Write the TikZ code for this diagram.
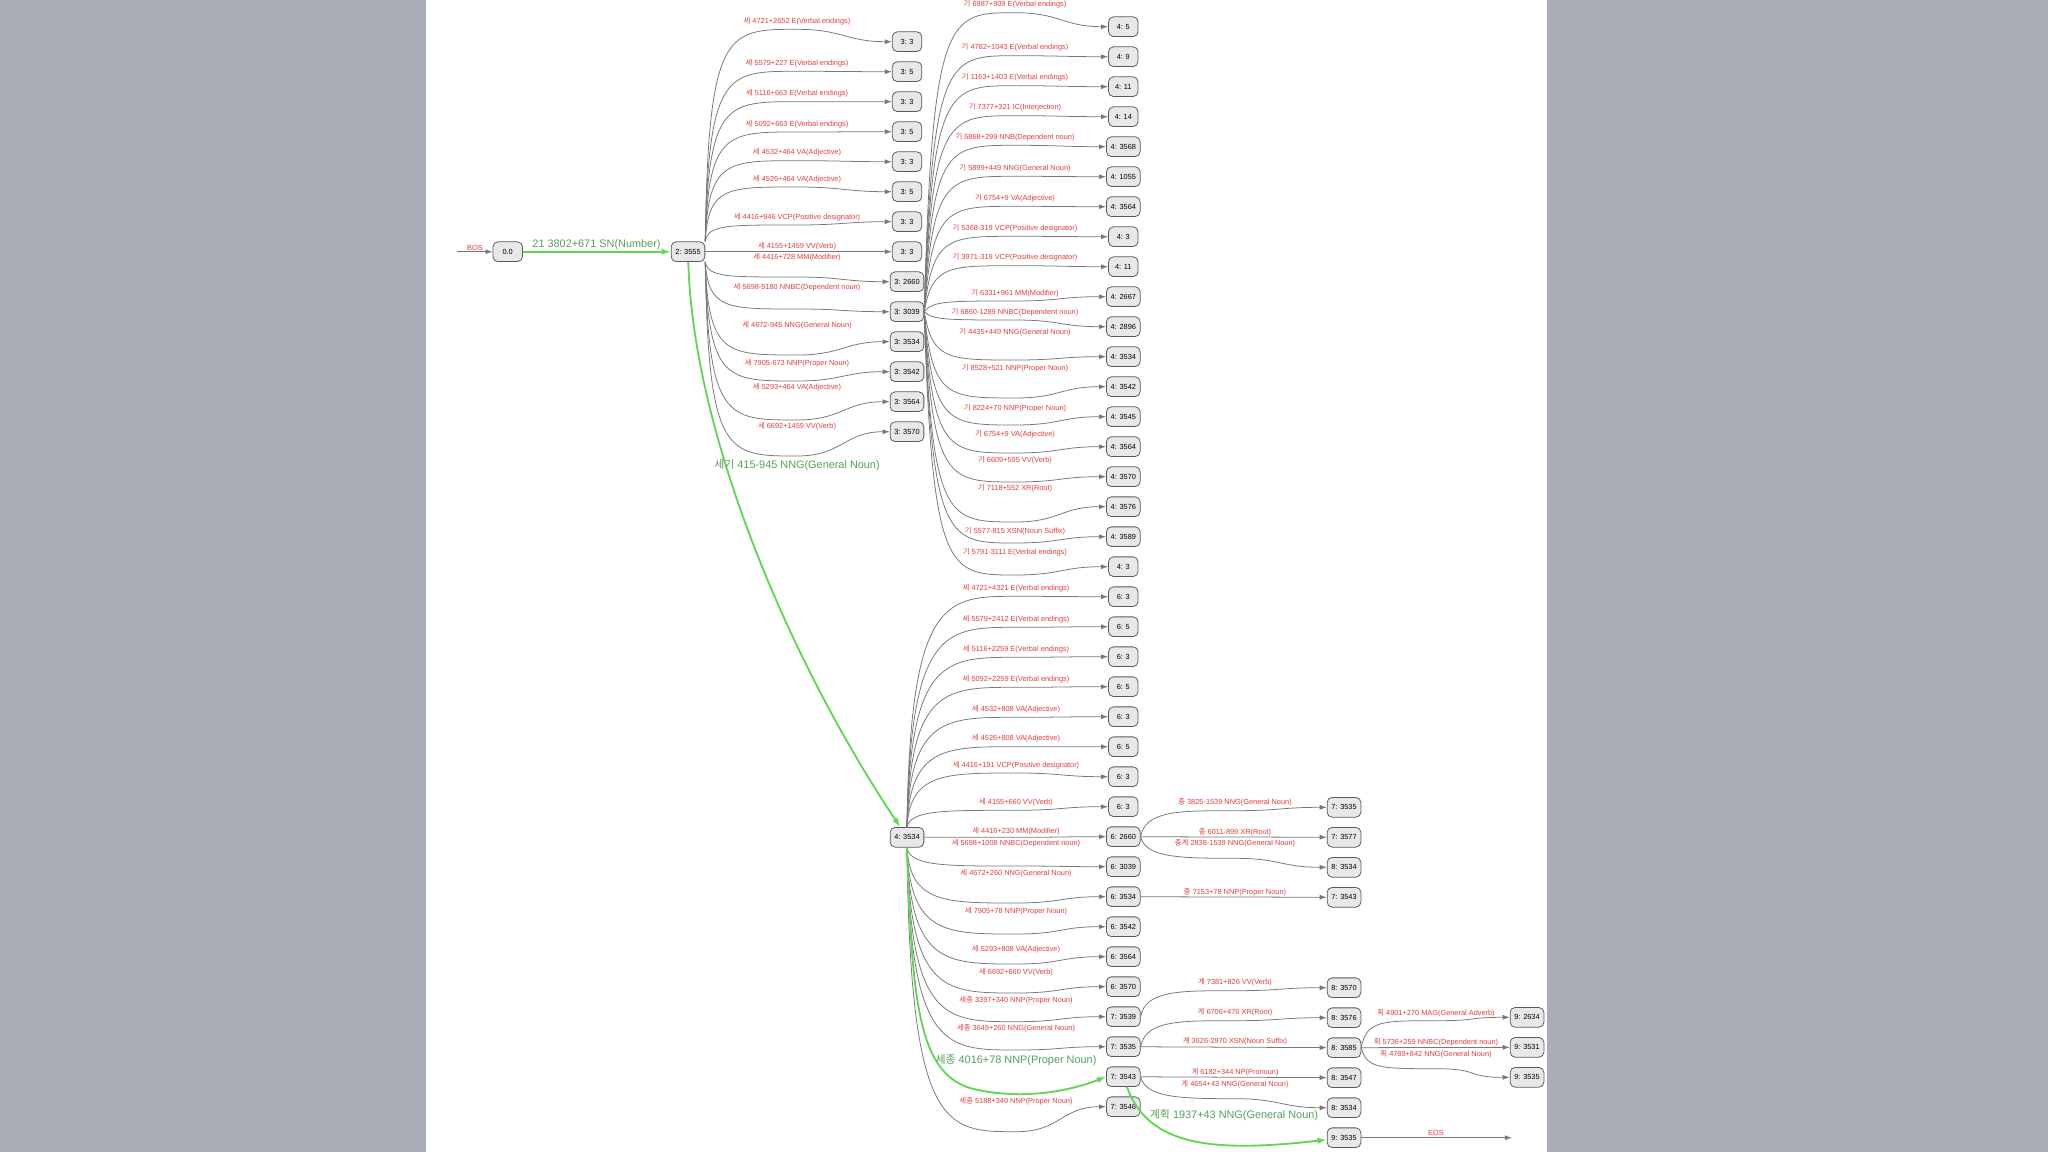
\documentclass[tikz,border=0pt]{standalone}
\usepackage{fontspec}
\setmainfont{Liberation Sans}
\newfontfamily\krfont{Noto Sans CJK KR}
\usetikzlibrary{arrows.meta}
\newcommand\hg[1]{{\krfont #1}}
\definecolor{bggray}{RGB}{170,173,183}
\definecolor{nodefill}{RGB}{232,232,235}
\definecolor{nodeline}{RGB}{90,90,90}
\definecolor{edgegray}{RGB}{120,120,120}
\definecolor{labred}{RGB}{228,60,60}
\definecolor{pathgreen}{RGB}{95,215,80}
\definecolor{labgreen}{RGB}{85,160,90}

\tikzset{
  st/.style={draw=nodeline, fill=nodefill, rounded corners=7pt, line width=1.1pt,
    minimum width=42pt, minimum height=28pt, inner xsep=6pt, font=\fontsize{10.5}{12}\selectfont},
  lnk/.style={draw=edgegray, line width=1.1pt, -{Latex[length=10pt,width=7pt]}},
  bestlnk/.style={draw=pathgreen, line width=2.6pt, -{Latex[length=13pt,width=9pt]}},
  lab/.style={text=labred, inner sep=0pt, font=\fontsize{10.5}{12}\selectfont},
  glab/.style={text=labgreen, inner sep=0pt, font=\fontsize{15.5}{18}\selectfont},
}

\begin{document}
\begin{tikzpicture}[x=0.05cm, y=-0.05cm]
    \useasboundingbox (0,0) rectangle (2048,1152);
    \fill[bggray] (0,0) rectangle (2048,1152);
    \fill[white] (426,0) rectangle (1547,1152);

    \coordinate (bos) at (457,251.7);
    \coordinate (eos) at (1512,1137.7);
    \node[st] (n0) at (507.7,251.7) {0.0};
    \node[st] (n2) at (688,251.7) {2: 3555};
    \foreach \nm [count=\k from 0] in {3,5,3,5,3,5,3,3,2660,3039,3534,3542,3564,3570}
        \node[st] (c3-\k) at (907,41.7+30*\k) {3: \nm};
    \node[st] (n4) at (907,837.3) {4: 3534};
    \foreach \nm [count=\k from 0] in {5,9,11,14,3568,1055,3564,3,11,2667,2896,3534,3542,3545,3564,3570,3576,3589,3}
        \node[st] (c4-\k) at (1123.3,26.7+30*\k) {4: \nm};
    \foreach \nm [count=\k from 0] in {6: 3,6: 5,6: 3,6: 5,6: 3,6: 5,6: 3,6: 3,6: 2660,6: 3039,6: 3534,6: 3542,6: 3564,6: 3570,7: 3539,7: 3535,7: 3543,7: 3546}
        \node[st] (c6-\k) at (1123.3,596.7+30*\k) {\nm};
    \node[st] (r7a) at (1344,807.3) {7: 3535};
    \node[st] (r7b) at (1344,837.3) {7: 3577};
    \node[st] (r8a) at (1344,867.3) {8: 3534};
    \node[st] (r7c) at (1344,897.3) {7: 3543};
    \node[st] (r8b) at (1344,987.7) {8: 3570};
    \node[st] (r8c) at (1344,1017.7) {8: 3576};
    \node[st] (r8d) at (1344,1047.7) {8: 3585};
    \node[st] (r8e) at (1344,1077.7) {8: 3547};
    \node[st] (r8f) at (1344,1107.7) {8: 3534};
    \node[st] (r9a) at (1344,1137.7) {9: 3535};
    \node[st] (f9a) at (1527,1017.3) {9: 2634};
    \node[st] (f9b) at (1527,1047.3) {9: 3531};
    \node[st] (f9c) at (1527,1077.3) {9: 3535};

    \foreach \ly/\wy/\txt [count=\k from 0] in {21.3/29.3/{\hg{세} 4721+2652 E(Verbal endings)},
        63.3/71.3/{\hg{세} 5579+227 E(Verbal endings)}, 93.7/101.7/{\hg{세} 5116+663 E(Verbal endings)},
        124/132/{\hg{세} 5092+663 E(Verbal endings)}, 152.7/160.7/{\hg{세} 4532+464 VA(Adjective)},
        179/187/{\hg{세} 4526+464 VA(Adjective)}, 217/225/{\hg{세} 4416+946 VCP(Positive designator)},
        246/251.7/{\hg{세} 4155+1459 VV(Verb)}, 257.7/277/{\hg{세} 4416+728 MM(Modifier)},
        287.7/309/{\hg{세} 5698-5180 NNBC(Dependent noun)}, 325.7/355/{\hg{세} 4672-945 NNG(General Noun)},
        363.3/381/{\hg{세} 7905-673 NNP(Proper Noun)}, 387.7/420/{\hg{세} 5293+464 VA(Adjective)},
        426.7/456/{\hg{세} 6692+1459 VV(Verb)}} {
        \pgfmathsetmacro\dy{30*\k-210}
        \ifdim\dy pt<-1pt \def\an{north east}\def\ay{241.9}\else
          \ifdim\dy pt>1pt \def\an{south east}\def\ay{261.5}\else \def\an{east}\def\ay{251.7}\fi\fi
        \pgfmathsetmacro\dw{\wy-\ay}
        \draw[lnk] (n2.\an) .. controls +(3,\dw) and (727,\wy) .. (797,\wy)
            .. controls (842,\wy) and +(-45,0) .. (c3-\k.west);
        \node[lab] (l3-\k) at (797,\ly) {\txt};
    }

    \foreach \ly/\wy/\txt [count=\k from 0] in {4.7/12.7/{\hg{기} 6987+909 E(Verbal endings)},
        47.7/55.7/{\hg{기} 4762+1043 E(Verbal endings)}, 77.7/85.7/{\hg{기} 1163+1403 E(Verbal endings)},
        107.7/115.7/{\hg{기} 7377+321 IC(Interjection)}, 137.3/145.3/{\hg{기} 5868+299 NNB(Dependent noun)},
        168.3/176.3/{\hg{기} 5899+449 NNG(General Noun)}, 198.3/206.3/{\hg{기} 6754+9 VA(Adjective)},
        228.3/236.3/{\hg{기} 5368-319 VCP(Positive designator)}, 257.7/265.7/{\hg{기} 3971-319 VCP(Positive designator)},
        293/301/{\hg{기} 6331+961 MM(Modifier)}, 312.7/320/{\hg{기} 6860-1289 NNBC(Dependent noun)},
        332.7/360/{\hg{기} 4435+449 NNG(General Noun)}, 368.7/398/{\hg{기} 8528+521 NNP(Proper Noun)},
        408.3/425/{\hg{기} 8224+70 NNP(Proper Noun)}, 434/453/{\hg{기} 6754+9 VA(Adjective)},
        460.3/482/{\hg{기} 6609+595 VV(Verb)}, 488.7/522/{\hg{기} 7118+552 XR(Root)},
        531/543/{\hg{기} 5577-815 XSN(Noun Suffix)}, 552.3/575/{\hg{기} 5791-3111 E(Verbal endings)}} {
        \pgfmathsetmacro\dw{\wy-311.7}
        \draw[lnk] (c3-9.east) .. controls +(8,\dw) and (948,\wy) .. (1015,\wy)
            .. controls (1060,\wy) and +(-45,0) .. (c4-\k.west);
        \node[lab] (l4-\k) at (1015,\ly) {\txt};
    }

    \foreach \k/\ly/\wy/\txt in {0/588.3/596.3/{\hg{세} 4721+4321 E(Verbal endings)},
        1/619.3/627.3/{\hg{세} 5579+2412 E(Verbal endings)}, 2/649.3/657.3/{\hg{세} 5116+2259 E(Verbal endings)},
        3/679.3/687.3/{\hg{세} 5092+2259 E(Verbal endings)}, 4/709.3/717.3/{\hg{세} 4532+808 VA(Adjective)},
        5/738.7/746.7/{\hg{세} 4526+808 VA(Adjective)}, 6/765/773/{\hg{세} 4416+191 VCP(Positive designator)},
        7/802.3/810.3/{\hg{세} 4155+660 VV(Verb)}, 8/831.7/837.3/{\hg{세} 4416+230 MM(Modifier)},
        9/843.3/866/{\hg{세} 5698+1008 NNBC(Dependent noun)}, 10/873.3/903/{\hg{세} 4672+260 NNG(General Noun)},
        11/911/934/{\hg{세} 7905+78 NNP(Proper Noun)}, 12/949/964/{\hg{세} 5293+808 VA(Adjective)},
        13/972.7/993/{\hg{세} 6692+660 VV(Verb)}, 14/1000/1021.7/{\hg{세종} 3397+340 NNP(Proper Noun)},
        15/1028.3/1050/{\hg{세종} 3649+260 NNG(General Noun)}, 17/1101.7/1131.7/{\hg{세종} 5188+340 NNP(Proper Noun)}} {
        \pgfmathsetmacro\dy{30*\k-240.6}
        \ifdim\dy pt<-1pt \def\an{north}\def\ay{827.5}\else
          \ifdim\dy pt>1pt \def\an{south}\def\ay{847.1}\else \def\an{east}\def\ay{837.3}\fi\fi
        \pgfmathsetmacro\dw{\wy-\ay}
        \draw[lnk] (n4.\an) .. controls +(3,\dw) and (946,\wy) .. (1016,\wy)
            .. controls (1061,\wy) and +(-45,0) .. (c6-\k.west);
        \node[lab] (l6-\k) at (1016,\ly) {\txt};
    }

    \draw[lnk] (c6-8.east) .. controls +(5,-26.6) and (1180,810.7) .. (1235,810.7)
        .. controls (1280,810.7) and +(-45,0) .. (r7a.west);
    \draw[lnk] (c6-8) -- (r7b);
    \draw[lnk] (c6-8.east) .. controls +(5,21) and (1180,858.3) .. (1235,858.3)
        .. controls (1280,858.3) and +(-45,0) .. (r8a.west);
    \draw[lnk] (c6-10) -- (r7c);
    \draw[lnk] (c6-14.east) .. controls +(5,-26.6) and (1180,990.7) .. (1235,990.7)
        .. controls (1280,990.7) and +(-45,0) .. (r8b.west);
    \draw[lnk] (c6-15.east) .. controls +(5,-26.6) and (1180,1020.7) .. (1235,1020.7)
        .. controls (1280,1020.7) and +(-45,0) .. (r8c.west);
    \draw[lnk] (c6-15) -- (r8d);
    \draw[lnk] (c6-16) -- (r8e);
    \draw[lnk] (c6-16.east) .. controls +(5,21) and (1180,1098.7) .. (1235,1098.7)
        .. controls (1280,1098.7) and +(-45,0) .. (r8f.west);
    \draw[lnk] (r8d.east) .. controls +(5,-27) and (1381,1020.7) .. (1436,1020.7)
        .. controls (1481,1020.7) and +(-45,0) .. (f9a.west);
    \draw[lnk] (r8d) -- (f9b);
    \draw[lnk] (r8d.east) .. controls +(5,21) and (1381,1068.7) .. (1436,1068.7)
        .. controls (1481,1068.7) and +(-45,0) .. (f9c.west);
    \draw[lnk] (r9a) -- (eos);
    \draw[lnk] (bos) -- (n0);

    \node[lab] (l7a) at (1235,802.7) {\hg{종} 3825-1539 NNG(General Noun)};
    \node[lab] (l7b) at (1235,832.3) {\hg{종} 6011-899 XR(Root)};
    \node[lab] (l8a) at (1235,843.3) {\hg{종계} 2838-1539 NNG(General Noun)};
    \node[lab] (l7c) at (1235,892.3) {\hg{종} 7153+78 NNP(Proper Noun)};
    \node[lab] (l8b) at (1235,982.7) {\hg{계} 7381+826 VV(Verb)};
    \node[lab] (l8c) at (1235,1012.7) {\hg{계} 6706+476 XR(Root)};
    \node[lab] (l8d) at (1235,1041.7) {\hg{계} 3626-2970 XSN(Noun Suffix)};
    \node[lab] (l8e) at (1235,1071.7) {\hg{계} 6182+344 NP(Pronoun)};
    \node[lab] (l8f) at (1235,1083.7) {\hg{계} 4654+43 NNG(General Noun)};
    \node[lab] (l9a) at (1436,1012.7) {\hg{획} 4901+270 MAG(General Adverb)};
    \node[lab] (l9b) at (1436,1041.7) {\hg{획} 5736+259 NNBC(Dependent noun)};
    \node[lab] (l9c) at (1436,1053.7) {\hg{획} 4789+842 NNG(General Noun)};
    \node[lab] (leos) at (1436,1133) {EOS};
    \node[lab] (lbos) at (475,247.5) {BOS};

    \draw[bestlnk] (n0) -- (n2);
    \draw[bestlnk] (n2) .. controls +(5,180) and +(-120,-180) .. (n4);
    \draw[bestlnk] (n4.south) .. controls (912,1000) and (918,1072) .. (970,1088)
        .. controls (1015,1100) and (1065,1093) .. (c6-16.west);
    \draw[bestlnk] (c6-16) .. controls +(25,70) and +(-130,15) .. (r9a);
    \node[glab] (g1) at (596.5,245) {21 3802+671 SN(Number)};
    \node[glab] (g2) at (797,465) {\hg{세기} 415-945 NNG(General Noun)};
    \node[glab] (g3) at (1016,1060) {\hg{세종} 4016+78 NNP(Proper Noun)};
    \node[glab] (g4) at (1234,1115) {\hg{계획} 1937+43 NNG(General Noun)};
\end{tikzpicture}
\end{document}
